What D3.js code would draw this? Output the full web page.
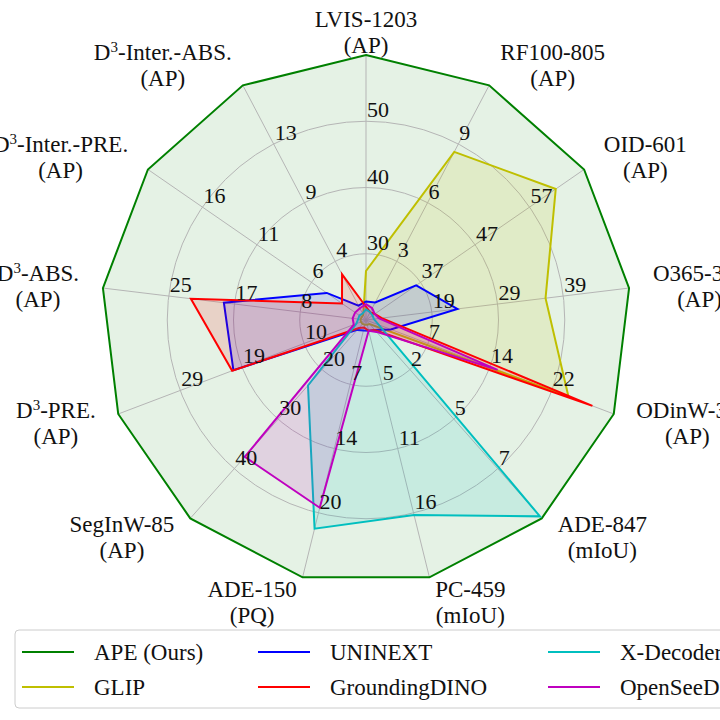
<!DOCTYPE html><html><head><meta charset="utf-8">
<script src="https://cdn.jsdelivr.net/npm/d3@7"></script>
<style>body{margin:0;background:#fff}svg text{font-family:'Liberation Serif','Times New Roman','DejaVu Serif',serif;fill:#111}</style>
</head><body><svg id="c" width="720" height="720" font-family="Liberation Serif, Times New Roman, serif"></svg>
<script>
const axes = ["LVIS-1203","RF100-805","OID-601","O365-365","ODinW-35","ADE-847","PC-459","ADE-150","SegInW-85","D^3-PRE.","D^3-ABS.","D^3-Inter.-PRE.","D^3-Inter.-ABS."];
const units = ["(AP)","(AP)","(AP)","(AP)","(AP)","(mIoU)","(mIoU)","(PQ)","(AP)","(AP)","(AP)","(AP)","(AP)"];
const axisMin = [20,0,27,9,0,0,0,0,10,0,0,1,0];
const axisMax = [60,12,67,49,29,10,21.5,27,50,38.5,33.5,21,18];
const tickLabels = [["30","40","50"],["3","6","9"],["37","47","57"],["19","29","39"],["7","14","22"],["2","5","7"],["5","11","16"],["7","14","20"],["20","30","40"],["10","19","29"],["8","17","25"],["6","11","16"],["4","9","13"]];
const seriesNames = ["APE (Ours)","GLIP","UNINEXT","GroundingDINO","X-Decoder","OpenSeeD"];
const seriesColors = ["#008000","#bfbf00","#0000ff","#ff0000","#00bfbf","#bf00bf"];
const apeValues = axisMax.slice();
const glipValues = [27.4,8.6,61.8,36.3,23.7,0.2,0.4,0.5,10.8,0.8,0.7,1.4,0.4];
const uninextValues = [22.8,0.9,36.2,22.9,2.9,0.5,0.9,1.1,12,20.6,18.1,4.6,1.1];
const gdinoValues = [22,0.4,28.6,11.4,26.5,0.5,0.9,0.8,11.6,20.8,22.3,3.2,3.5];
const xdecValues = [21.6,0.4,28.2,10.2,1.5,9.9,16.3,21.9,23.2,1.5,1,1.6,0.5];
const openseedValues = [22.4,0.6,28.6,11,15.4,0.6,0.9,19.7,37.6,1.9,1.7,2,0.9];
const allValues = [apeValues,glipValues,uninextValues,gdinoValues,xdecValues,openseedValues];

const svg = d3.select("#c");
const cx=366, cy=320, R=265, n=axes.length;
const ang = i => i*2*Math.PI/n;
const scales = axes.map((a,i)=>d3.scaleLinear().domain([axisMin[i],axisMax[i]]).range([0,R]));
const pt = (i,r)=>[cx+r*Math.sin(ang(i)), cy-r*Math.cos(ang(i))];
const line = d3.line().curve(d3.curveLinearClosed);
const poly = vals => line(vals.map((v,i)=>pt(i,scales[i](v))));

svg.append("path").attr("d",poly(apeValues)).attr("fill",seriesColors[0]).attr("fill-opacity",0.1);
const g = svg.append("g");
[1,2,3].forEach(k=>g.append("circle").attr("cx",cx).attr("cy",cy).attr("r",k*R/4).attr("fill","none").attr("stroke","#b5b5b5").attr("stroke-width",1));
axes.forEach((a,i)=>{const p=pt(i,R);g.append("line").attr("x1",cx).attr("y1",cy).attr("x2",p[0]).attr("y2",p[1]).attr("stroke","#b5b5b5").attr("stroke-width",1);});

allValues.forEach((vals,s)=>{
  svg.append("path").attr("d",poly(vals)).attr("fill",s==0?"none":seriesColors[s]).attr("fill-opacity",0.13)
    .attr("stroke",seriesColors[s]).attr("stroke-width",2).attr("stroke-linejoin","miter");
});

tickLabels.forEach((tl,i)=>tl.forEach((t,k)=>{
  const p=pt(i,(k+1)*R/4);
  svg.append("text").attr("x",p[0]+1).attr("y",p[1]-4).attr("font-size",22).text(t);
}));

function addRich(sel,str){
  const parts=str.split("^3");
  sel.append("tspan").text(parts[0]);
  if(parts.length>1){sel.append("tspan").attr("font-size",15).attr("dy",-8).text("3");sel.append("tspan").attr("dy",8).text(parts[1]);}
}
axes.forEach((a,i)=>{
  const p=pt(i,R+24), s=Math.sin(ang(i));
  const grp=svg.append("g");
  const t1=grp.append("text").attr("font-size",23); addRich(t1,a);
  const t2=grp.append("text").attr("font-size",23).text(units[i]);
  const w1=t1.node().getComputedTextLength(), w2=t2.node().getComputedTextLength();
  const bw=Math.max(w1,w2);
  let left = s>0.1? p[0] : s<-0.1? p[0]-bw : p[0]-bw/2;
  const mid=left+bw/2;
  t1.attr("x",mid).attr("text-anchor","middle").attr("y",p[1]-4);
  t2.attr("x",mid).attr("text-anchor","middle").attr("y",p[1]+22);
});

svg.append("rect").attr("x",15).attr("y",630).attr("width",720).attr("height",78).attr("rx",4).attr("fill","#fff").attr("stroke","#ccc");
const colX=[22,258,548], rowY=[652,687];
seriesNames.forEach((nm,s)=>{
  const c=Math.floor(s/2), r=s%2;
  svg.append("line").attr("x1",colX[c]).attr("x2",colX[c]+52).attr("y1",rowY[r]).attr("y2",rowY[r]).attr("stroke",seriesColors[s]).attr("stroke-width",2);
  svg.append("text").attr("x",colX[c]+72).attr("y",rowY[r]+8).attr("font-size",23).text(nm);
});
</script></body></html>
